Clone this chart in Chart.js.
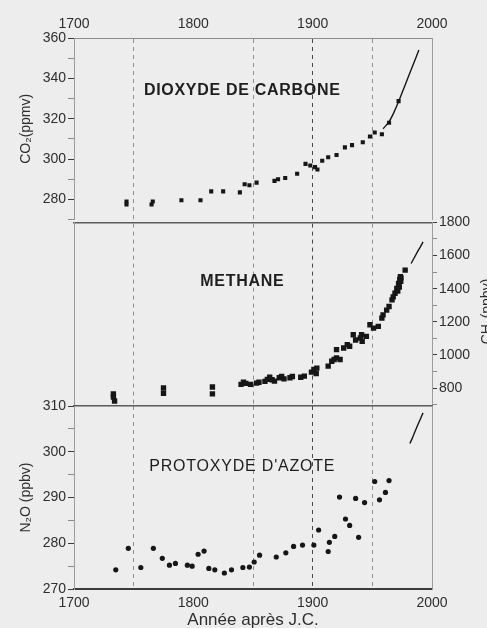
<!DOCTYPE html>
<html lang="fr">
<head>
<meta charset="utf-8">
<title>CO2, CH4, N2O depuis 1700</title>
<script src="https://cdn.jsdelivr.net/npm/chart.js@4.4.1/dist/chart.umd.min.js"></script>
<style>
  html, body { margin: 0; padding: 0; background: #ededed; overflow: hidden; }
  #wrap { position: relative; width: 487px; height: 628px; }
  canvas { position: absolute; left: 0; }
</style>
</head>
<body>
<div id="wrap">
  <canvas id="chartCO2" width="487" height="230" style="top:0"></canvas>
  <canvas id="chartCH4" width="487" height="203" style="top:212px"></canvas>
  <canvas id="chartN2O" width="487" height="233" style="top:395px"></canvas>
</div>
<script>
// ===== données =====
const YEAR_TICKS = [1700, 1750, 1800, 1850, 1900, 1950, 2000];
const CO2_TICKS = [270, 280, 290, 300, 310, 320, 330, 340, 350, 360];
const CH4_TICKS = [700, 800, 900, 1000, 1100, 1200, 1300, 1400, 1500, 1600, 1700, 1800];
const N2O_TICKS = [270, 275, 280, 285, 290, 295, 300, 305, 310];

// CO2 (ppmv) - carottes de glace
const CO2_YEAR = [1744, 1744, 1765, 1766, 1790, 1806, 1815, 1825, 1839, 1843, 1847, 1853, 1868, 1871, 1877, 1887,
  1894, 1898, 1902, 1904, 1908, 1913, 1920, 1927, 1933, 1942, 1948, 1952, 1958, 1964, 1972];
const CO2_PPMV = [277.5, 279, 277.5, 279, 279.6, 279.6, 284, 284, 283.5, 287.5, 287, 288.3, 289.2, 290, 290.6, 292.7,
  297.6, 296.8, 296, 294.8, 299.2, 300.9, 302, 305.8, 306.9, 308.3, 311.2, 313.2, 312.3, 318, 328.7];
// CO2 mesures atmosphériques (courbe)
const CO2_LINE_YEAR = [1959, 1964, 1968, 1972, 1976, 1980, 1984, 1989];
const CO2_LINE_PPMV = [315, 318.5, 323, 328.5, 334.5, 340.5, 346.5, 354];

// CH4 (ppbv)
const CH4_YEAR = [1733, 1733, 1734, 1775, 1775, 1816, 1816, 1840, 1842, 1844, 1848, 1853, 1855, 1860, 1862, 1864,
  1866, 1868, 1872, 1874, 1876, 1881, 1883, 1890, 1893, 1899, 1901, 1903, 1903.5, 1913, 1916, 1918, 1920, 1920,
  1923, 1926, 1929, 1931, 1934, 1936, 1940, 1941, 1941.5, 1945, 1948, 1951, 1955, 1958, 1959, 1962, 1964, 1966.5,
  1969, 1970.5, 1972, 1973, 1973.5, 1977.5, 1967.5, 1971.3, 1972.6, 1973.8, 1974];
const CH4_PPBV = [765, 745, 722, 800, 768, 806, 765, 822, 835, 828, 822, 830, 835, 840, 852, 865,
  850, 842, 862, 870, 855, 862, 870, 865, 872, 896, 912, 888, 920, 932, 962, 972, 982, 1032,
  972, 1042, 1062, 1052, 1122, 1090, 1102, 1122, 1082, 1112, 1182, 1162, 1172, 1222, 1242, 1270, 1292, 1332,
  1372, 1402, 1432, 1456, 1472, 1512, 1350, 1385, 1410, 1445, 1465];
const CH4_LINE_YEAR = [1982.5, 1985, 1988, 1990.5, 1992.5];
const CH4_LINE_PPBV = [1552, 1585, 1625, 1655, 1682];

// N2O (ppbv)
const N2O_YEAR = [1735, 1745.5, 1756, 1766.5, 1774, 1780, 1785, 1795, 1799, 1804, 1809, 1813, 1818, 1826, 1832,
  1841.5, 1847, 1851, 1855.5, 1869.5, 1877.5, 1884, 1891.5, 1901, 1905, 1913, 1914, 1918.5, 1922.5, 1927.5, 1931,
  1936, 1938.5, 1943.5, 1952, 1956, 1961, 1964];
const N2O_PPBV = [274.2, 278.9, 274.7, 278.9, 276.7, 275.2, 275.6, 275.2, 275.0, 277.6, 278.3, 274.5, 274.2, 273.5, 274.2,
  274.7, 274.8, 275.9, 277.4, 277.0, 277.9, 279.3, 279.6, 279.6, 282.9, 278.2, 280.2, 281.5, 290.1, 285.3, 283.9,
  289.8, 281.3, 288.9, 293.5, 289.5, 291.1, 293.7];
const N2O_LINE_YEAR = [1981.5, 1984, 1987, 1990, 1992.5];
const N2O_LINE_PPBV = [301.8, 303.3, 305.2, 307, 308.5];

// ===== styles =====
const FONT = "'Liberation Sans', Arial, Helvetica, sans-serif";
const INK = '#161616';
const TXT = '#2e2e2e';

const pts = (xs, ys) => xs.map((x, i) => ({ x, y: ys[i] }));

const gridColor = c => {
  const v = c.tick && c.tick.value;
  if (v === 1900) return '#4a4a4a';
  if (v === 1750 || v === 1850 || v === 1950) return '#8e8e8e';
  return 'rgba(0,0,0,0)';
};

const tickFont = { family: FONT, size: 14 };

// texte dans le panneau, placé via les échelles
const panelLabel = {
  id: 'panelLabel',
  afterDatasetsDraw(chart, args, o) {
    if (!o || !o.text) return;
    const { ctx, scales } = chart;
    ctx.save();
    ctx.font = o.font;
    ctx.fillStyle = '#1e1e1e';
    ctx.textAlign = 'center';
    ctx.textBaseline = 'middle';
    if ('letterSpacing' in ctx) ctx.letterSpacing = o.spacing || '0px';
    ctx.fillText(o.text, scales.x.getPixelForValue(o.year), scales[o.axis].getPixelForValue(o.value));
    ctx.restore();
  }
};

// titre de l'axe droit (lu de bas en haut, coupé par le bord)
const sideTitle = {
  id: 'sideTitle',
  afterDraw(chart, args, o) {
    if (!o || !o.text) return;
    const { ctx, chartArea } = chart;
    ctx.save();
    ctx.translate(o.x, (chartArea.top + chartArea.bottom) / 2 - 2);
    ctx.rotate(-Math.PI / 2);
    ctx.font = o.font;
    ctx.fillStyle = TXT;
    ctx.textAlign = 'center';
    ctx.textBaseline = 'top';
    ctx.fillText(o.text, 0, 0);
    ctx.restore();
  }
};

const minorTick = step => c => (c.tick && c.tick.value % step === 0) ? '#3a3a3a' : '#8a8a8a';

function pointSet(data, style, radius) {
  return {
    data, pointStyle: style, pointRadius: radius, pointBorderWidth: 0,
    pointBackgroundColor: INK, showLine: false
  };
}
function lineSet(data) {
  return {
    data, showLine: true, pointRadius: 0, borderColor: INK, borderWidth: 1.4,
    tension: 0.3, fill: false
  };
}

const base = {
  responsive: false,
  animation: false,
  events: [],
  plugins: { legend: { display: false }, tooltip: { enabled: false } }
};

// ===== Chart 1 : CO2 =====
new Chart(document.getElementById('chartCO2'), {
  type: 'scatter',
  data: {
    datasets: [
      pointSet(pts(CO2_YEAR, CO2_PPMV), 'rect', 2.9),
      lineSet(pts(CO2_LINE_YEAR, CO2_LINE_PPMV))
    ]
  },
  plugins: [panelLabel],
  options: {
    ...base,
    layout: { padding: { top: 0, bottom: 8, left: 0, right: 0 } },
    plugins: {
      ...base.plugins,
      panelLabel: { text: 'DIOXYDE DE CARBONE', font: 'bold 16px ' + FONT, spacing: '0.7px', year: 1841, value: 334, axis: 'y' }
    },
    scales: {
      x: {
        type: 'linear', position: 'top', min: 1700, max: 2000,
        afterBuildTicks: s => { s.ticks = YEAR_TICKS.map(v => ({ value: v })); },
        afterFit: s => { s.height = 38; },
        ticks: { autoSkip: false, maxRotation: 0, padding: 5, color: TXT, font: tickFont,
                 callback: v => v % 100 === 0 ? String(v) : '' },
        grid: { color: gridColor, lineWidth: 1, drawTicks: false },
        border: { display: true, color: '#8c8c8c', width: 1, dash: [4, 4] }
      },
      y: {
        position: 'left', min: 270, max: 360,
        afterBuildTicks: s => { s.ticks = CO2_TICKS.map(v => ({ value: v })); },
        afterFit: s => { s.width = 74; },
        ticks: { autoSkip: false, padding: 2, color: TXT, font: tickFont,
                 callback: v => (v % 20 === 0 && v >= 280) ? String(v) : '' },
        grid: { drawOnChartArea: false, drawTicks: true, tickLength: 6, tickColor: minorTick(20) },
        border: { display: true, color: '#9c9c9c', width: 1 },
        title: { display: true, text: 'CO₂(ppmv)', color: TXT, font: { family: FONT, size: 14 }, padding: { top: 18 } }
      },
      y2: {
        position: 'right', min: 270, max: 360,
        afterFit: s => { s.width = 55; },
        ticks: { display: false }, grid: { display: false },
        border: { display: true, color: '#9c9c9c', width: 1 }
      }
    }
  }
});

// ===== Chart 2 : CH4 =====
new Chart(document.getElementById('chartCH4'), {
  type: 'scatter',
  data: {
    datasets: [
      pointSet(pts(CH4_YEAR, CH4_PPBV), 'rect', 3.8),
      lineSet(pts(CH4_LINE_YEAR, CH4_LINE_PPBV))
    ]
  },
  plugins: [panelLabel, sideTitle],
  options: {
    ...base,
    layout: { padding: { top: 0, bottom: 10, left: 0, right: 0 } },
    plugins: {
      ...base.plugins,
      panelLabel: { text: 'METHANE', font: 'bold 16px ' + FONT, spacing: '0.7px', year: 1841, value: 1440, axis: 'y' },
      sideTitle: { text: 'CH₄(ppbv)', font: '14px ' + FONT, x: 480 }
    },
    scales: {
      x: {
        type: 'linear', position: 'top', min: 1700, max: 2000,
        afterBuildTicks: s => { s.ticks = YEAR_TICKS.map(v => ({ value: v })); },
        afterFit: s => { s.height = 10; },
        ticks: { display: false },
        grid: { color: gridColor, lineWidth: 1, drawTicks: false },
        border: { display: true, color: '#5a5a5a', width: 1.6, dash: [4, 4] }
      },
      yl: {
        position: 'left', min: 700, max: 1800,
        afterFit: s => { s.width = 74; },
        ticks: { display: false }, grid: { display: false },
        border: { display: true, color: '#9c9c9c', width: 1 }
      },
      y: {
        position: 'right', min: 700, max: 1800,
        afterBuildTicks: s => { s.ticks = CH4_TICKS.map(v => ({ value: v })); },
        afterFit: s => { s.width = 55; },
        ticks: { autoSkip: false, padding: 2, color: TXT, font: tickFont,
                 callback: v => (v % 200 === 0 && v >= 800) ? String(v) : '' },
        grid: { drawOnChartArea: false, drawTicks: true, tickLength: 5, tickColor: minorTick(200) },
        border: { display: true, color: '#9c9c9c', width: 1 }
      }
    }
  }
});

// ===== Chart 3 : N2O =====
new Chart(document.getElementById('chartN2O'), {
  type: 'scatter',
  data: {
    datasets: [
      pointSet(pts(N2O_YEAR, N2O_PPBV), 'circle', 2.6),
      lineSet(pts(N2O_LINE_YEAR, N2O_LINE_PPBV))
    ]
  },
  plugins: [panelLabel],
  options: {
    ...base,
    layout: { padding: { top: 0, bottom: 0, left: 0, right: 0 } },
    plugins: {
      ...base.plugins,
      panelLabel: { text: "PROTOXYDE D'AZOTE", font: '16px ' + FONT, spacing: '0.8px', year: 1841, value: 296.7, axis: 'y' }
    },
    scales: {
      x: {
        type: 'linear', position: 'bottom', min: 1700, max: 2000,
        afterBuildTicks: s => { s.ticks = YEAR_TICKS.map(v => ({ value: v })); },
        afterFit: s => { s.height = 39; },
        ticks: { autoSkip: false, maxRotation: 0, padding: 6, color: TXT, font: tickFont,
                 callback: v => v % 100 === 0 ? String(v) : '' },
        grid: { color: gridColor, lineWidth: 1, drawTicks: false },
        border: { display: true, color: '#3c3c3c', width: 2, dash: [4, 4] },
        title: { display: true, text: 'Année après J.C.', color: TXT, font: { family: FONT, size: 17, lineHeight: 1 }, padding: { top: 0, bottom: -1 } }
      },
      xt: {
        type: 'linear', position: 'top', min: 1700, max: 2000,
        afterFit: s => { s.height = 11; },
        ticks: { display: false }, grid: { display: false },
        border: { display: true, color: '#5a5a5a', width: 1.6 }
      },
      y: {
        position: 'left', min: 270, max: 310,
        afterBuildTicks: s => { s.ticks = N2O_TICKS.map(v => ({ value: v })); },
        afterFit: s => { s.width = 74; },
        ticks: { autoSkip: false, padding: 2, color: TXT, font: tickFont,
                 callback: v => v % 10 === 0 ? String(v) : '' },
        grid: { drawOnChartArea: false, drawTicks: true, tickLength: 6, tickColor: minorTick(10) },
        border: { display: true, color: '#9c9c9c', width: 1 },
        title: { display: true, text: 'N₂O (ppbv)', color: TXT, font: { family: FONT, size: 14 }, padding: { top: 18 } }
      },
      y2: {
        position: 'right', min: 270, max: 310,
        afterFit: s => { s.width = 55; },
        ticks: { display: false }, grid: { display: false },
        border: { display: true, color: '#9c9c9c', width: 1 }
      }
    }
  }
});
</script>
</body>
</html>
